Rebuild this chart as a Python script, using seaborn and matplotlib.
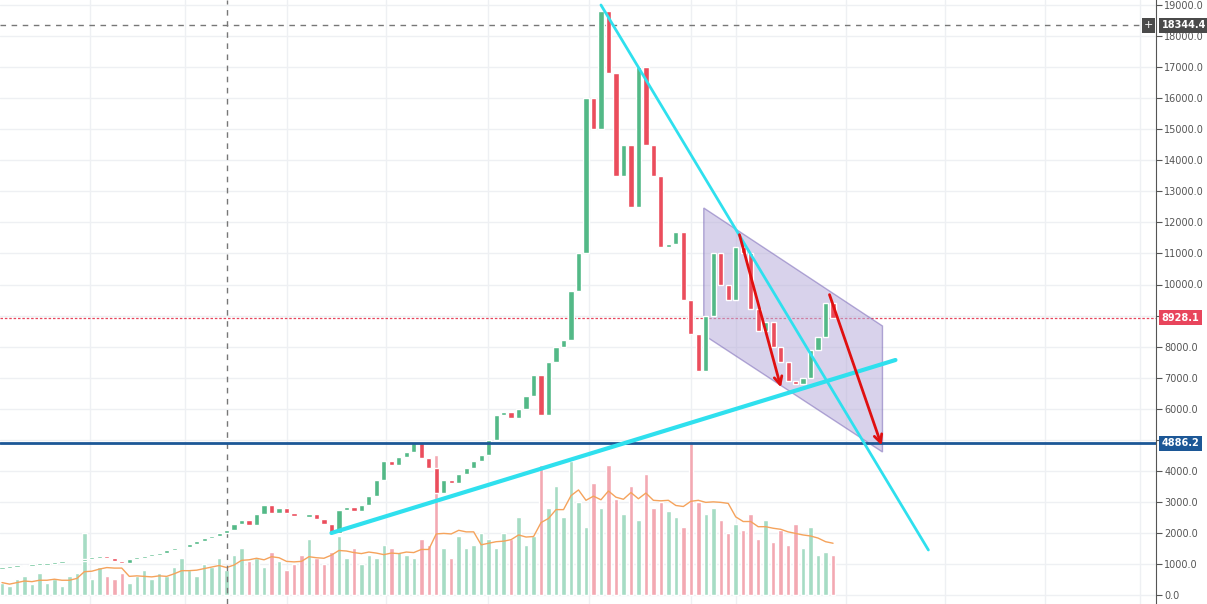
import matplotlib
matplotlib.use("Agg")
import matplotlib.pyplot as plt
import seaborn as sns
import numpy as np
import pandas as pd
from matplotlib.patches import Polygon

closes = [870,900,920,950,960,980,1000,1020,1050,1080,
          1100,1150,1200,1260,1200,1100,1030,1150,1200,1250,
          1300,1350,1450,1500,1550,1650,1750,1850,1900,2000,
          2100,2300,2400,2250,2600,2900,2650,2800,2650,2550,
          2500,2600,2450,2300,2000,2750,2850,2700,2900,3200,
          3700,4300,4200,4450,4600,4900,4400,4100,3300,3700,
          3600,3900,4100,4300,4500,5000,5800,5900,5700,6000,
          6400,7100,5800,7500,8000,8200,9800,11000,16000,15000,
          18800,16800,13500,14500,12500,17000,14500,13500,11200,11300,
          11700,9500,8400,7200,9000,11000,10000,9500,11200,11000,
          9200,8500,8800,8000,7500,6900,6800,7000,7900,8300,
          9400,8928]
first_open = 850
volumes = [400,300,500,600,350,700,400,500,300,600,
           700,2000,500,900,600,500,700,400,600,800,
           500,700,600,900,1200,800,600,1000,900,1200,
           800,1300,1500,1100,1200,900,1400,1100,800,1000,
           1300,1800,1200,1000,1400,1900,1200,1500,1000,1300,
           1200,1600,1500,1400,1300,1200,1800,1600,4500,1500,
           1200,1900,1500,1600,2000,1800,1500,2000,1800,2500,
           1600,1900,4200,2800,3500,2500,4300,3000,2200,3600,
           2800,4200,3100,2600,3500,2400,3900,2800,3000,2700,
           2500,2200,4900,3000,2600,2800,2400,2000,2300,2100,
           2600,1800,2400,1700,2100,1600,2300,1500,2200,1300,
           1400,1300]
crosshair_price = 18344.4
last_price = 8928.1
support_price = 4886.2
yticks = list(range(0, 19001, 1000))

PX = 7.5          # pixels per candle
PPK = 0.03105     # pixels per price unit
def dx(px): return px / PX
def dy(py): return (595 - py) / PPK

sns.set_style("white")
fig = plt.figure(figsize=(12.07, 6.04), dpi=100)
AXW = 1156
ax = fig.add_axes([0, 0, AXW/1207, 1])

n = len(closes)
idx = np.arange(n)
opens = [first_open] + closes[:-1]
up = [c >= o for o, c in zip(opens, closes)]
green, red = "#53b987", "#eb4d5c"

df = pd.DataFrame({"i": idx, "vol": volumes})
df["ma"] = df["vol"].rolling(6, min_periods=1).mean()
ax.bar(idx, volumes, width=0.6, color=["#a6dcc4" if u else "#f3a9b2" for u in up], zorder=1)
sns.lineplot(data=df, x="i", y="ma", ax=ax, color="#f5a35c", lw=1, zorder=2)

bottoms = [min(o, c) for o, c in zip(opens, closes)]
heights = [max(abs(c - o), 60) for o, c in zip(opens, closes)]
ax.bar(idx, heights, bottom=bottoms, width=0.7,
       color=[green if u else red for u in up], zorder=4)

for y in yticks:
    ax.axhline(y, color="#eef0f3", lw=1, zorder=0)
for px in [88, 183, 285, 385, 487, 588, 690, 735, 845, 945, 1045, 1140]:
    ax.axvline(dx(px), color="#eef0f3", lw=1, zorder=0)

ax.axvline(dx(225), color="#777777", lw=1, ls=(0, (4, 4)), zorder=3)
ax.axhline(crosshair_price, color="#777777", lw=1, ls=(0, (4, 4)), zorder=3)
ax.axhline(last_price, color="#e8455c", lw=0.9, ls=(0, (2, 1.5)), zorder=3)
ax.axhline(support_price, color="#1c5796", lw=2, zorder=5)

poly = Polygon([(dx(703), dy(208)), (dx(882), dy(326)), (dx(882), dy(452)), (dx(703), dy(335))],
               closed=True, facecolor="#b9aedb", alpha=0.55, edgecolor="#7a68b8", lw=1, zorder=3)
ax.add_patch(poly)

ax.plot([dx(600), dx(928)], [dy(5), dy(550)], color="#2fe0ee", lw=2, zorder=6)
ax.plot([dx(330), dx(895)], [dy(533), dy(360)], color="#2fe0ee", lw=3, zorder=6)

for (x0, y0, x1, y1) in [(738, 232, 781, 390), (828, 292, 882, 448)]:
    ax.annotate("", xy=(dx(x1), dy(y1)), xytext=(dx(x0), dy(y0)),
                arrowprops=dict(arrowstyle="->", color="#e01010", lw=2, mutation_scale=14), zorder=7)

ax.set_xlim(dx(-2), dx(AXW))
ax.set_ylim(dy(604), dy(0))
ax.set_xticks([])
ax.yaxis.tick_right()
ax.set_yticks(yticks)
ax.set_yticklabels([f"{v:.1f}" for v in yticks], color="#555555", fontsize=7)
ax.tick_params(axis="y", length=4, color="#555555", pad=2)
for s in ["top", "left", "bottom"]:
    ax.spines[s].set_visible(False)
ax.spines["right"].set_color("#555555")
ax.set_xlabel(""); ax.set_ylabel("")

def tag(price, text, bg):
    ax.text(1.005, price, text, transform=ax.get_yaxis_transform(), ha="left", va="center",
            color="white", fontsize=7, fontweight="bold", clip_on=False, zorder=10,
            bbox=dict(boxstyle="square,pad=0.25", facecolor=bg, edgecolor="none"))
tag(crosshair_price, "18344.4", "#4a4a4a")
tag(last_price, "8928.1", "#e8455c")
tag(support_price, "4886.2", "#1c5796")
ax.text(0.9935, crosshair_price, "+", transform=ax.get_yaxis_transform(), ha="center", va="center",
        color="white", fontsize=8, zorder=10,
        bbox=dict(boxstyle="square,pad=0.2", facecolor="#4a4a4a", edgecolor="none"))

fig.savefig("out.png", dpi=100)
